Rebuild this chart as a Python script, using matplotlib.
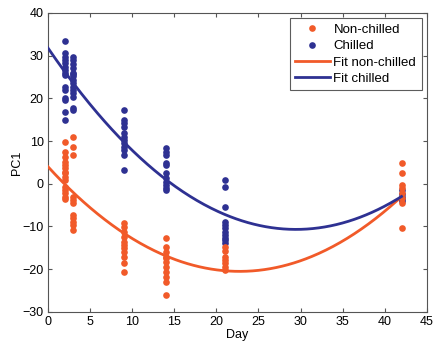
import numpy as np
import matplotlib
matplotlib.use("Agg")
import matplotlib.pyplot as plt

plt.rcParams['font.family'] = ['Liberation Sans', 'DejaVu Sans']

# Chilled data (day -> PC1 values)
ch_d2 = [33.4, 30.6, 29.7, 29.0, 28.3, 27.4, 26.6, 26.0, 25.5, 22.7, 22.0, 20.0, 19.6, 16.8, 14.9]
ch_d3 = [29.7, 29.0, 28.0, 27.1, 26.0, 25.7, 25.2, 24.3, 23.6, 22.7, 22.0, 21.3, 20.3, 17.8, 17.3]
ch_d9 = [17.3, 14.9, 14.2, 13.3, 11.9, 11.0, 10.3, 9.6, 8.6, 7.9, 6.7, 3.2]
ch_d14 = [8.4, 7.4, 6.7, 4.9, 4.4, 2.5, 1.4, 0.4, -0.3, -1.0, -1.5]
ch_d21 = [0.9, -0.7, -5.4, -8.9, -9.6, -10.4, -11.3, -12.0, -12.7, -13.2, -13.9]
ch_d42 = [-1.5, -2.5, -3.0, -3.5, -4.0]

# Non-chilled data
nc_d2 = [9.8, 7.4, 6.3, 5.1, 4.4, 3.7, 2.8, 2.5, 1.6, 0.9, -0.7, -1.4, -2.2, -3.1, -3.6]
nc_d3 = [11.0, 8.6, 6.7, -3.1, -3.8, -4.5, -7.3, -8.0, -8.9, -9.6, -10.8]
nc_d9 = [-9.2, -10.1, -11.3, -12.5, -13.6, -14.3, -15.0, -16.0, -17.1, -18.5, -20.7]
nc_d14 = [-12.7, -14.8, -16.0, -17.1, -17.4, -18.3, -19.5, -20.7, -21.8, -23.0, -26.0]
nc_d21 = [-14.8, -15.7, -17.1, -17.8, -18.5, -19.5, -20.2]
nc_d42 = [4.9, 2.5, -0.3, -1.0, -2.2, -3.3, -4.5, -10.3]

days = [2, 3, 9, 14, 21, 42]
chilled = [ch_d2, ch_d3, ch_d9, ch_d14, ch_d21, ch_d42]
nonchilled = [nc_d2, nc_d3, nc_d9, nc_d14, nc_d21, nc_d42]

# Quadratic fit coefficients (a, b, c)
fit_nonchilled = [0.04735, -2.155, 4.0]
fit_chilled = [0.04897, -2.885, 31.8]

orange = '#F15A29'
blue = '#2E3192'

fig = plt.figure(figsize=(4.4, 3.5), dpi=100)
ax = fig.add_axes([0.109, 0.109, 0.861, 0.854])

def flat(days, groups):
    xs, ys = [], []
    for d, g in zip(days, groups):
        xs += [d] * len(g)
        ys += g
    return xs, ys

xn, yn = flat(days, nonchilled)
xc, yc = flat(days, chilled)

ax.plot(xn, yn, 'o', color=orange, ms=4.8, mec='none', label='Non-chilled', zorder=3)
ax.plot(xc, yc, 'o', color=blue, ms=4.8, mec='none', label='Chilled', zorder=2)

xf = np.linspace(0, 42, 300)
ax.plot(xf, np.polyval(fit_nonchilled, xf), color=orange, lw=2, label='Fit non-chilled', zorder=4)
ax.plot(xf, np.polyval(fit_chilled, xf), color=blue, lw=2, label='Fit chilled', zorder=4)

ax.set_xlim(0, 45)
ax.set_ylim(-30, 40)
ax.set_xticks(np.arange(0, 46, 5))
ax.set_yticks(np.arange(-30, 41, 10))
ax.tick_params(direction='in', top=True, right=True, labelsize=9, length=3, color='#555555', pad=3)
for s in ax.spines.values():
    s.set_color('#555555')
    s.set_linewidth(0.8)
ax.set_xlabel('Day', fontsize=9, labelpad=1)
ax.set_ylabel('PC1', fontsize=9, labelpad=0)

leg = ax.legend(loc='upper right', fontsize=9.5, frameon=True, fancybox=False,
                edgecolor='#333333', handlelength=2.6, borderaxespad=0.4,
                labelspacing=0.32, handletextpad=0.3, borderpad=0.4)
leg.get_frame().set_linewidth(0.8)

fig.savefig('out.png', dpi=100)
